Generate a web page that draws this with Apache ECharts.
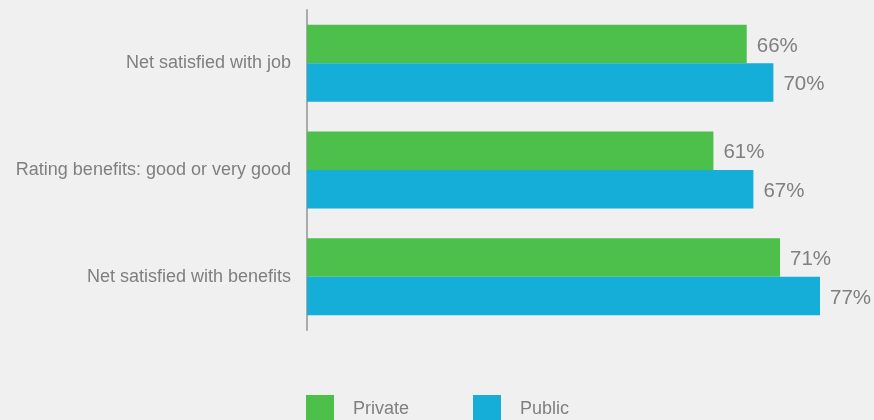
<!DOCTYPE html>
<html><head><meta charset="utf-8">
<script src="https://cdn.jsdelivr.net/npm/echarts@6/dist/echarts.min.js"></script>
<style>html,body{margin:0;padding:0;background:#f0f0f0;}#c{width:874px;height:420px;}</style>
</head><body><div id="c"></div>
<script>
const categories = ["Net satisfied with job", "Rating benefits: good or very good", "Net satisfied with benefits"];
const privateValues = [66, 61, 71];
const publicValues = [70, 67, 77];
const seriesNames = ["Private", "Public"];

const FONT = '"Liberation Sans", Arial, sans-serif';
const chart = echarts.init(document.getElementById('c'));
const labelStyle = {show: true, position: 'right', distance: 10, offset: [0, 2], formatter: '{c}%', color: '#7f7f7f', fontSize: 20.5, fontFamily: FONT};
chart.setOption({
  backgroundColor: '#f0f0f0',
  animation: false,
  grid: {left: 307, right: 34, top: 10, bottom: 90, containLabel: false},
  xAxis: {type: 'value', min: 0, max: 80, show: false},
  yAxis: {
    type: 'category', data: categories, inverse: true,
    axisLine: {show: true, lineStyle: {color: '#aaaaaa', width: 2}},
    axisTick: {show: false},
    axisLabel: {color: '#7f7f7f', fontSize: 18, margin: 16, fontFamily: FONT}
  },
  legend: {
    left: 301, top: 390, itemWidth: 28, itemHeight: 28, itemGap: 64,
    icon: 'rect',
    textStyle: {color: '#7f7f7f', fontSize: 18, padding: [5, 0, 0, 14], fontFamily: FONT},
    data: seriesNames
  },
  series: [
    {name: seriesNames[0], type: 'bar', data: privateValues, barWidth: 38.5, barGap: '0%', barCategoryGap: '27.7%', itemStyle: {color: '#4cc04a'}, label: labelStyle},
    {name: seriesNames[1], type: 'bar', data: publicValues, barWidth: 38.5, barGap: '0%', itemStyle: {color: '#14aed8'}, label: labelStyle}
  ]
});
</script></body></html>
